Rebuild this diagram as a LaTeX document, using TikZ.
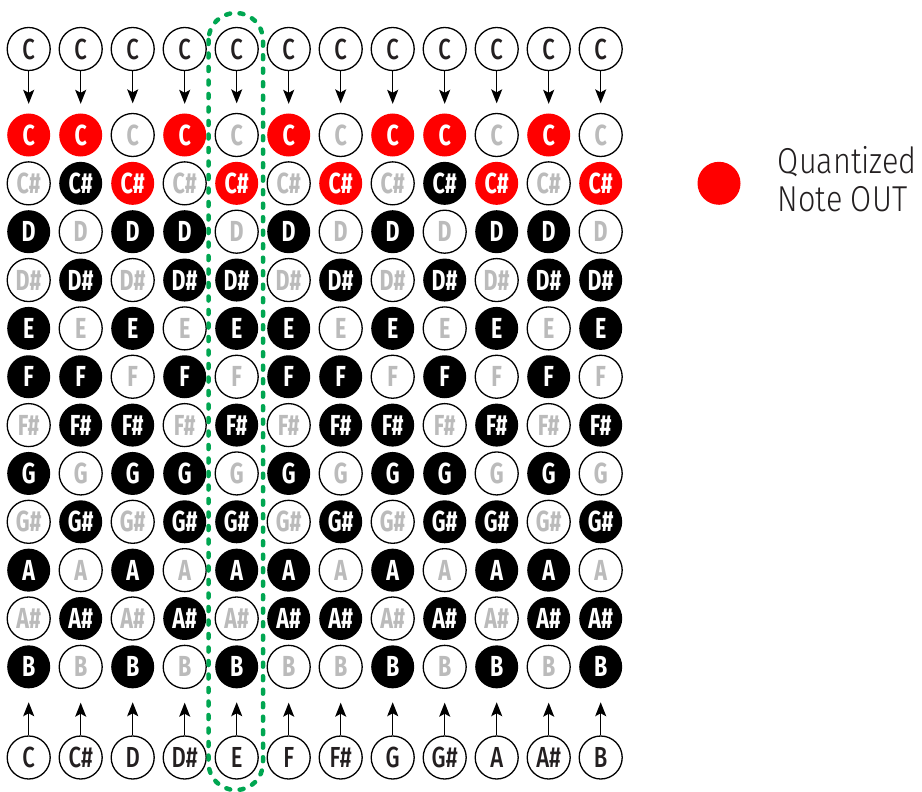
\documentclass[tikz,border=0pt]{standalone}
\usepackage{fontspec}
\usepackage{tikz}
\usetikzlibrary{arrows.meta, positioning}
\newfontfamily\notefont{Fira Sans}[FakeStretch=0.74]
\newfontfamily\notefontm{Fira Sans Medium}[FakeStretch=0.76]
\newfontfamily\legendfont{Fira Sans Light}[FakeStretch=0.85]
\definecolor{rosso}{HTML}{FF0000}
\definecolor{verde}{HTML}{00A651}
\definecolor{grigio}{HTML}{BBBBBB}
\definecolor{scuro}{HTML}{231F20}

\begin{document}
\begin{tikzpicture}[x=1pt, y=-1pt, >={Stealth[length=14pt, width=11pt, inset=3pt]},
  nota/.style={circle, minimum size=43pt, inner sep=0pt,
    font=\notefont\fontsize{29}{29}\selectfont\bfseries},
  stato w/.style={nota, draw=black, line width=1.3pt, fill=white, text=grigio},
  stato k/.style={nota, fill=black, text=white},
  stato r/.style={nota, fill=rosso, text=white},
  ingresso/.style={nota, draw=black, line width=1.3pt, text=scuro,
    font=\notefontm\fontsize{29}{29}\selectfont},
  freccia/.style={->, line width=1.3pt}]

\useasboundingbox (0,0) rectangle (922,792);

% griglia delle note
\foreach \nome/\stati [count=\r] in {
    C/{r,r,w,r,w,r,w,r,r,w,r,w},
    C\#/{w,k,r,w,r,w,r,w,k,r,w,r},
    D/{k,w,k,k,w,k,w,k,w,k,k,w},
    D\#/{w,k,w,k,k,w,k,w,k,w,k,k},
    E/{k,w,k,w,k,k,w,k,w,k,w,k},
    F/{k,k,w,k,w,k,k,w,k,w,k,w},
    F\#/{w,k,k,w,k,w,k,k,w,k,w,k},
    G/{k,w,k,k,w,k,w,k,k,w,k,w},
    G\#/{w,k,w,k,k,w,k,w,k,k,w,k},
    A/{k,w,k,w,k,k,w,k,w,k,k,w},
    A\#/{w,k,w,k,w,k,k,w,k,w,k,k},
    B/{k,w,k,w,k,w,w,k,w,k,w,k}}
  \foreach \s [count=\c] in \stati
    \node[stato \s] (N\r-\c) at ({28.7+52*(\c-1)}, {135+48.35*(\r-1)}) {\nome};

% ingressi sopra e sotto
\foreach \nome [count=\c] in {C,C\#,D,D\#,E,F,F\#,G,G\#,A,A\#,B} {
  \node[ingresso] (T\c) at ({28.7+52*(\c-1)}, 49) {C};
  \node[ingresso] (B\c) at ({28.7+52*(\c-1)}, 757.5) {\nome};
  \draw[freccia, shorten >=9.5pt] (T\c) -- (N1-\c);
  \draw[freccia, shorten >=13.7pt] (B\c) -- (N12-\c);
}

% colonna evidenziata
\draw[verde, line width=4.5pt, dash pattern=on 4pt off 9.5pt, line cap=round,
  rounded corners=27pt] (208.5,13) rectangle (263,790);

% legenda
\node[stato r] (L) at (719,183.3) {};
\node[right=37pt of L, yshift=4pt, inner sep=0pt, align=left, text=scuro,
  font=\legendfont\fontsize{36}{37.7}\selectfont] (Ltesto) {Quantized\\Note OUT};

\end{tikzpicture}
\end{document}
